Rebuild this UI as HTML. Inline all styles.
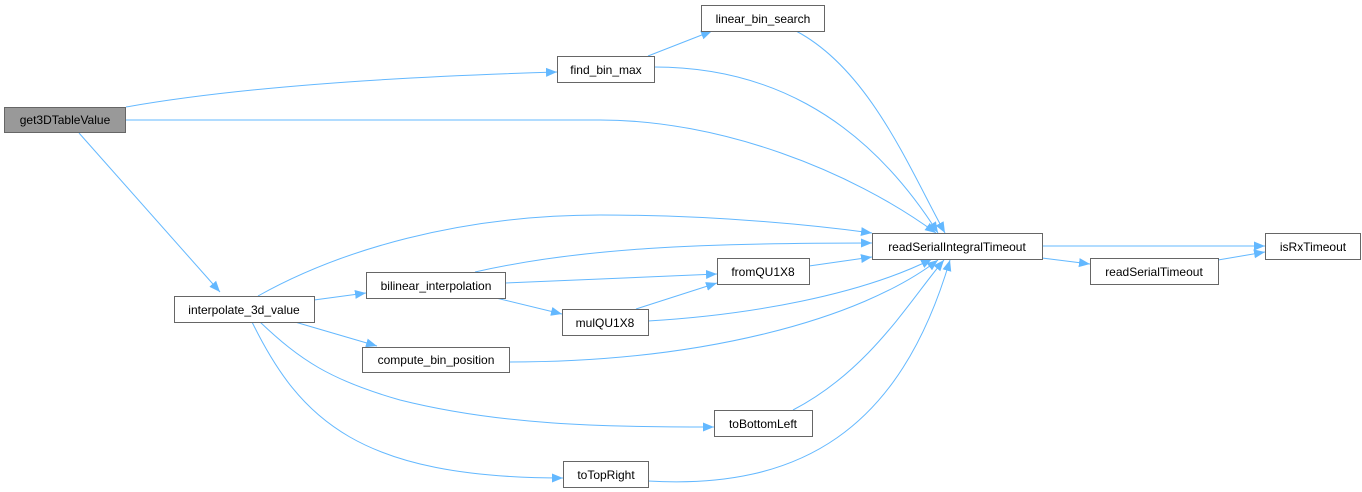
<!DOCTYPE html>
<html><head><meta charset="utf-8"><style>
html,body{margin:0;padding:0;background:#fff;}
svg{display:block;}
text{font-family:"Liberation Sans",Arial,sans-serif;font-size:12px;fill:#000;}
</style></head><body>
<svg width="1362" height="492" viewBox="0 0 1362 492" xmlns="http://www.w3.org/2000/svg">
<defs>
<marker id="a" markerUnits="userSpaceOnUse" markerWidth="12" markerHeight="10" refX="11" refY="5" orient="auto">
<polygon points="0,0.5 11,5 0,9.5" fill="#63b8ff"/>
</marker>
</defs>
<g fill="none" stroke="#63b8ff" stroke-width="1" marker-end="url(#a)">
<path d="M126,107 C250,85 420,76 557,72"/>
<path d="M126,120 L600,120 C720,120 850,170 936,233"/>
<path d="M79,133 L220,292"/>
<path d="M648,56 L712,31"/>
<path d="M654,67 C760,67 860,110 938,233"/>
<path d="M796,31 C870,70 910,170 945,233"/>
<path d="M258,296 C340,250 460,215 600,215 C720,215 820,226 872,233"/>
<path d="M475,272 C580,248 700,243 872,243"/>
<path d="M505,283 L717,274"/>
<path d="M496,298 L562,314"/>
<path d="M636,309 L717,283"/>
<path d="M648,321 C750,315 860,295 932,259"/>
<path d="M809,266 L872,257"/>
<path d="M314,300 L366,293"/>
<path d="M295,322 L377,346"/>
<path d="M509,362 C700,362 860,320 938,260"/>
<path d="M260,322 C300,360 330,380 400,400 C500,425 600,427 714,427"/>
<path d="M252,322 C300,420 360,478 563,478"/>
<path d="M793,410 C870,370 910,300 944,260"/>
<path d="M648,481 C800,490 900,430 950,260"/>
<path d="M1042,246 L1265,246"/>
<path d="M1042,258 L1090,264"/>
<path d="M1218,260 L1265,252"/>
</g>
<g stroke="#666" stroke-width="1">
<rect x="4.5" y="107.5" width="121" height="25" fill="#999"/>
<rect x="557.5" y="56.5" width="97" height="26" fill="#fff"/>
<rect x="701.5" y="5.5" width="123" height="26" fill="#fff"/>
<rect x="872.5" y="233.5" width="170" height="26" fill="#fff"/>
<rect x="1265.5" y="233.5" width="95" height="26" fill="#fff"/>
<rect x="1090.5" y="258.5" width="128" height="26" fill="#fff"/>
<rect x="717.5" y="258.5" width="92" height="26" fill="#fff"/>
<rect x="174.5" y="296.5" width="140" height="26" fill="#fff"/>
<rect x="366.5" y="272.5" width="139" height="26" fill="#fff"/>
<rect x="562.5" y="309.5" width="86" height="26" fill="#fff"/>
<rect x="362.5" y="347.5" width="147" height="25" fill="#fff"/>
<rect x="714.5" y="410.5" width="98" height="26" fill="#fff"/>
<rect x="563.5" y="461.5" width="85" height="26" fill="#fff"/>
</g>
<g text-anchor="middle">
<text x="65" y="124">get3DTableValue</text>
<text x="606" y="74">find_bin_max</text>
<text x="763" y="23">linear_bin_search</text>
<text x="957" y="251">readSerialIntegralTimeout</text>
<text x="1313" y="251">isRxTimeout</text>
<text x="1154" y="276">readSerialTimeout</text>
<text x="763" y="276">fromQU1X8</text>
<text x="244" y="314">interpolate_3d_value</text>
<text x="436" y="290">bilinear_interpolation</text>
<text x="605" y="327">mulQU1X8</text>
<text x="436" y="364">compute_bin_position</text>
<text x="763" y="428">toBottomLeft</text>
<text x="606" y="479">toTopRight</text>
</g>
</svg>
</body></html>
